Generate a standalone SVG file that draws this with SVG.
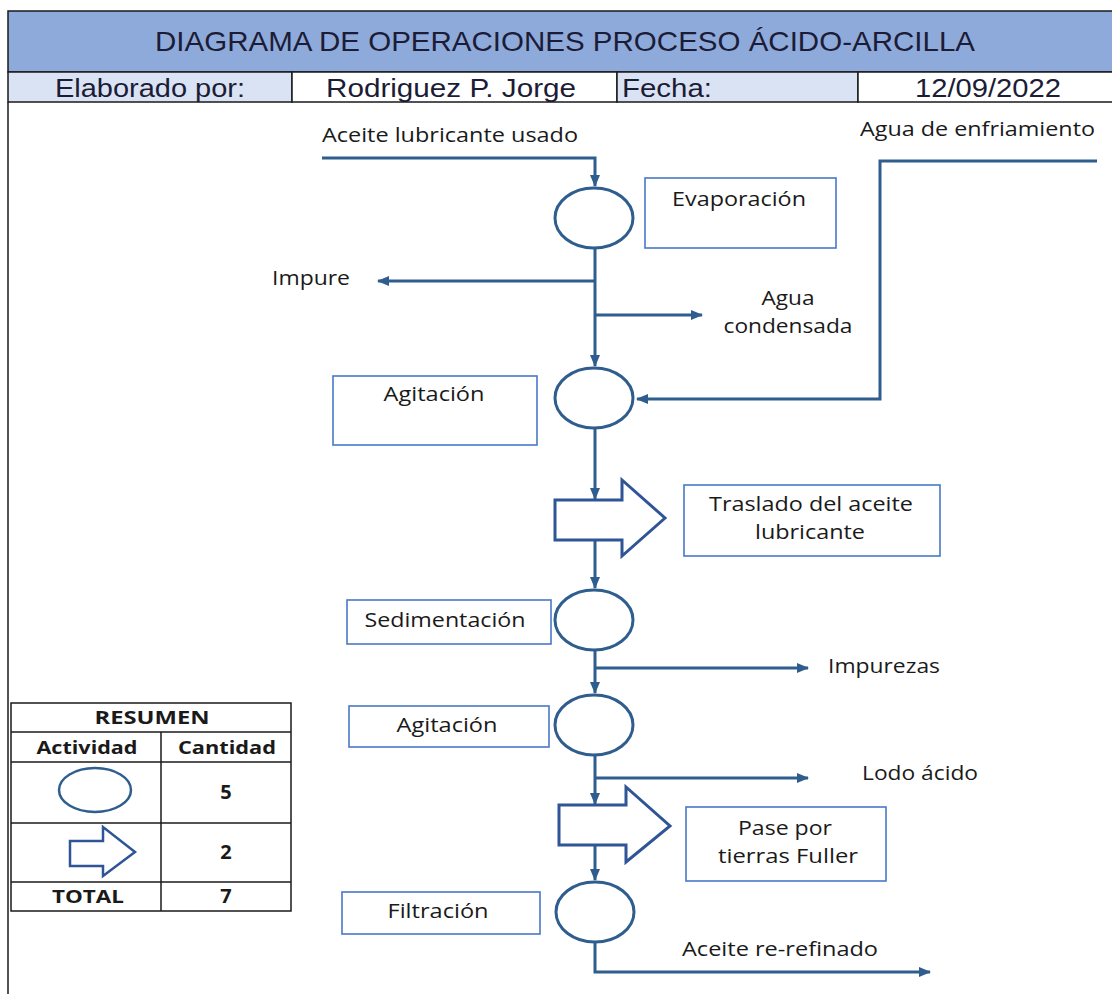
<svg xmlns="http://www.w3.org/2000/svg" width="1112" height="994" viewBox="0 0 1112 994">
  <style>
    .hdr { font-family: "Liberation Sans", Arial, sans-serif; fill: #1c1c36; }
    .lbl { font-family: "Open Sans", "Noto Sans", sans-serif; font-size: 20px; fill: #1a1a1a; }
    .tb  { font-family: "Open Sans", "Noto Sans", sans-serif; font-size: 18px; font-weight: bold; fill: #1a1a1a; }
    .num { font-family: "Open Sans", "Noto Sans", sans-serif; font-size: 20px; font-weight: bold; fill: #1a1a1a; }
    .op  { fill: #ffffff; stroke: #2e5d8e; stroke-width: 3; }
    .box { fill: #ffffff; stroke: #4a78c8; stroke-width: 1.6; }
    .tr  { fill: #ffffff; stroke: #2f5597; stroke-width: 3; stroke-linejoin: miter; }
    .ln  { fill: none; stroke: #2e5d8e; stroke-width: 3; }
    .grid { fill: none; stroke: #1a1a1a; stroke-width: 1.5; }
  </style>
  <defs>
    <marker id="ah" markerUnits="userSpaceOnUse" markerWidth="12" markerHeight="10" refX="11" refY="5" orient="auto">
      <path d="M0,0 L12,5 L0,10 Z" fill="#2e5d8e"/>
    </marker>
  </defs>

  <rect x="0" y="0" width="1112" height="994" fill="#ffffff"/>

  <!-- header block -->
  <g id="header">
    <rect x="8" y="11" width="1110" height="61" fill="#8eaadb" stroke="#1a1a1a" stroke-width="1.5"/>
    <text class="hdr" x="565" y="51" font-size="28" text-anchor="middle" textLength="820" lengthAdjust="spacingAndGlyphs">DIAGRAMA DE OPERACIONES PROCESO ÁCIDO-ARCILLA</text>
    <rect x="8" y="72" width="284" height="30" fill="#dae3f3" stroke="#1a1a1a" stroke-width="1.5"/>
    <rect x="292" y="72" width="325" height="30" fill="#ffffff" stroke="#1a1a1a" stroke-width="1.5"/>
    <rect x="617" y="72" width="241" height="30" fill="#dae3f3" stroke="#1a1a1a" stroke-width="1.5"/>
    <rect x="858" y="72" width="260" height="30" fill="#ffffff" stroke="#1a1a1a" stroke-width="1.5"/>
    <text class="hdr" x="150" y="97" font-size="26" text-anchor="middle" textLength="190" lengthAdjust="spacingAndGlyphs">Elaborado por:</text>
    <text class="hdr" x="451" y="97" font-size="26" text-anchor="middle" textLength="250" lengthAdjust="spacingAndGlyphs">Rodriguez P. Jorge</text>
    <text class="hdr" x="622" y="97" font-size="26" textLength="90" lengthAdjust="spacingAndGlyphs">Fecha:</text>
    <text class="hdr" x="988" y="97" font-size="26" text-anchor="middle" textLength="146" lengthAdjust="spacingAndGlyphs">12/09/2022</text>
    <line x1="8" y1="102" x2="8" y2="994" stroke="#1a1a1a" stroke-width="1.5"/>
  </g>

  <!-- flow lines -->
  <g id="connectors">
    <path class="ln" d="M322,158 H595 V186" marker-end="url(#ah)"/>
    <path class="ln" d="M1097,161 H880 V399 H637" marker-end="url(#ah)"/>
    <path class="ln" d="M595,248 V366" marker-end="url(#ah)"/>
    <path class="ln" d="M595,281 H378" marker-end="url(#ah)"/>
    <path class="ln" d="M595,315 H702" marker-end="url(#ah)"/>
    <path class="ln" d="M595,428 V499" marker-end="url(#ah)"/>
    <path class="ln" d="M595,541 V588" marker-end="url(#ah)"/>
    <path class="ln" d="M595,650 V693" marker-end="url(#ah)"/>
    <path class="ln" d="M595,668 H808" marker-end="url(#ah)"/>
    <path class="ln" d="M595,755 V804" marker-end="url(#ah)"/>
    <path class="ln" d="M595,778 H808" marker-end="url(#ah)"/>
    <path class="ln" d="M595,846 V880" marker-end="url(#ah)"/>
    <path class="ln" d="M595,942 V972 H930" marker-end="url(#ah)"/>
  </g>

  <!-- operations and transports -->
  <g id="evaporacion">
    <ellipse class="op" cx="594" cy="218" rx="39" ry="30"/>
    <rect class="box" x="645" y="178" width="191" height="70"/>
    <text class="lbl" x="739" y="206" text-anchor="middle" textLength="134" lengthAdjust="spacingAndGlyphs">Evaporación</text>
  </g>

  <g id="agitacion-1">
    <ellipse class="op" cx="594" cy="398" rx="39" ry="30"/>
    <rect class="box" x="333" y="376" width="204" height="69"/>
    <text class="lbl" x="434" y="401" text-anchor="middle" textLength="101" lengthAdjust="spacingAndGlyphs">Agitación</text>
  </g>

  <g id="traslado">
    <path class="tr" d="M555,500 H622 V480 L665,518 L622,556 V540 H555 Z"/>
    <rect class="box" x="684" y="485" width="256" height="71"/>
    <text class="lbl" x="811" y="511" text-anchor="middle" textLength="204" lengthAdjust="spacingAndGlyphs">Traslado del aceite</text>
    <text class="lbl" x="810" y="539" text-anchor="middle" textLength="110" lengthAdjust="spacingAndGlyphs">lubricante</text>
  </g>

  <g id="sedimentacion">
    <ellipse class="op" cx="594" cy="620" rx="39" ry="30"/>
    <rect class="box" x="347" y="600" width="204" height="44"/>
    <text class="lbl" x="445" y="627" text-anchor="middle" textLength="161" lengthAdjust="spacingAndGlyphs">Sedimentación</text>
  </g>

  <g id="agitacion-2">
    <ellipse class="op" cx="594" cy="725" rx="39" ry="30"/>
    <rect class="box" x="349" y="706" width="200" height="41"/>
    <text class="lbl" x="447" y="732" text-anchor="middle" textLength="101" lengthAdjust="spacingAndGlyphs">Agitación</text>
  </g>

  <g id="pase-fuller">
    <path class="tr" d="M559,805 H626 V787 L670,826 L626,862 V845 H559 Z"/>
    <rect class="box" x="686" y="807" width="200" height="74"/>
    <text class="lbl" x="785" y="835" text-anchor="middle" textLength="94" lengthAdjust="spacingAndGlyphs">Pase por</text>
    <text class="lbl" x="788" y="863" text-anchor="middle" textLength="140" lengthAdjust="spacingAndGlyphs">tierras Fuller</text>
  </g>

  <g id="filtracion">
    <ellipse class="op" cx="595" cy="912" rx="39" ry="30"/>
    <rect class="box" x="342" y="892" width="198" height="42"/>
    <text class="lbl" x="438" y="918" text-anchor="middle" textLength="101" lengthAdjust="spacingAndGlyphs">Filtración</text>
  </g>

  <!-- stream labels -->
  <g id="streams">
    <text class="lbl" x="322" y="142" textLength="256" lengthAdjust="spacingAndGlyphs">Aceite lubricante usado</text>
    <text class="lbl" x="860" y="136" textLength="235" lengthAdjust="spacingAndGlyphs">Agua de enfriamiento</text>
    <text class="lbl" x="272" y="285" textLength="78" lengthAdjust="spacingAndGlyphs">Impure</text>
    <text class="lbl" x="788" y="305" text-anchor="middle" textLength="53" lengthAdjust="spacingAndGlyphs">Agua</text>
    <text class="lbl" x="788" y="333" text-anchor="middle" textLength="129" lengthAdjust="spacingAndGlyphs">condensada</text>
    <text class="lbl" x="828" y="673" textLength="112" lengthAdjust="spacingAndGlyphs">Impurezas</text>
    <text class="lbl" x="862" y="780" textLength="116" lengthAdjust="spacingAndGlyphs">Lodo ácido</text>
    <text class="lbl" x="682" y="956" textLength="196" lengthAdjust="spacingAndGlyphs">Aceite re-refinado</text>
  </g>

  <!-- summary table -->
  <g id="resumen">
    <rect class="grid" x="11" y="703" width="280" height="208" fill="#ffffff"/>
    <line class="grid" x1="11" y1="732" x2="291" y2="732"/>
    <line class="grid" x1="11" y1="762" x2="291" y2="762"/>
    <line class="grid" x1="11" y1="823" x2="291" y2="823"/>
    <line class="grid" x1="11" y1="882" x2="291" y2="882"/>
    <line class="grid" x1="161" y1="732" x2="161" y2="911"/>
    <text class="tb" x="152" y="724" text-anchor="middle" textLength="115" lengthAdjust="spacingAndGlyphs">RESUMEN</text>
    <text class="tb" x="87" y="754" text-anchor="middle" textLength="101" lengthAdjust="spacingAndGlyphs">Actividad</text>
    <text class="tb" x="227" y="754" text-anchor="middle" textLength="98" lengthAdjust="spacingAndGlyphs">Cantidad</text>
    <ellipse cx="95" cy="790" rx="36" ry="22" fill="#ffffff" stroke="#2e5d8e" stroke-width="2.5"/>
    <text class="num" x="226" y="799" text-anchor="middle">5</text>
    <path d="M70,841 H103 V827 L135,852 L103,876 V866 H70 Z" fill="#ffffff" stroke="#2f5597" stroke-width="2.5"/>
    <text class="num" x="226" y="859" text-anchor="middle">2</text>
    <text class="tb" x="88" y="903" text-anchor="middle" textLength="72" lengthAdjust="spacingAndGlyphs">TOTAL</text>
    <text class="num" x="226" y="903" text-anchor="middle">7</text>
  </g>
</svg>
